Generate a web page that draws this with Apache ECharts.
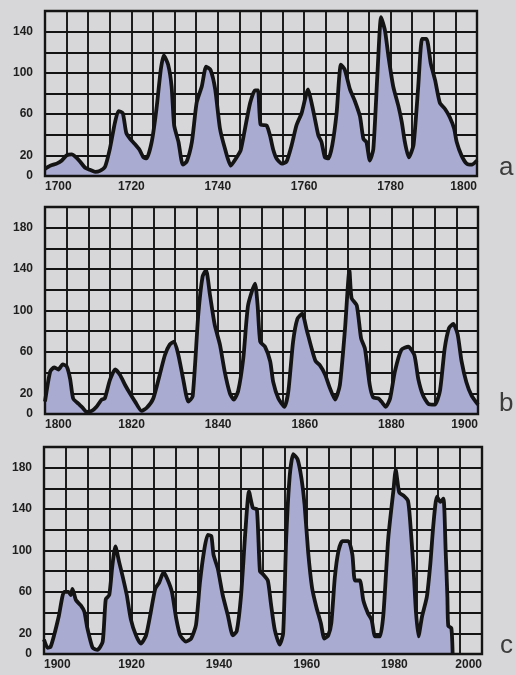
<!DOCTYPE html>
<html>
<head>
<meta charset="utf-8">
<script src="https://cdn.jsdelivr.net/npm/echarts@6/dist/echarts.min.js"></script>
<style>
  html, body { margin: 0; padding: 0; background: #d7d7d9; }
  #chart { width: 516px; height: 675px; }
</style>
</head>
<body>
<div id="chart"></div>
<script>
// ---- Data (year, sunspot number) ----
const yearsA = [1700,1701.2,1702.7,1703.9,1705,1706.2,1707.2,1708.1,1709.3,1710.4,1711.6,1712.7,1713.9,1715,1716.2,1717,1718,1718.8,1719.7,1720.8,1721.8,1722.8,1723.5,1724.7,1725.8,1726.8,1727.5,1728.5,1729.3,1729.9,1730.9,1731.9,1732.8,1734,1735.1,1736.3,1737.3,1738.3,1739.4,1740.5,1741.7,1743,1744.2,1745.3,1746.3,1747.5,1748.6,1749.3,1749.9,1751.3,1752.1,1752.8,1753.6,1754.8,1755.9,1757.1,1758.2,1759.4,1760.9,1761.7,1762.5,1763.3,1764,1764.8,1765.6,1766.5,1767.5,1768.5,1769.4,1770.6,1771.7,1772.9,1773.7,1774.4,1775.2,1776,1777,1777.8,1778.7,1779.5,1780.6,1781.8,1782.6,1783.3,1784.2,1785.3,1786.4,1787.3,1788.3,1789.3,1790.3,1791.4,1792.6,1793.7,1794.7,1795.3,1796.4,1797.6,1798.8,1800];
const sunspotsA = [7,10,12,15,20,21,18,14,8,6,4,5,9,26,52,63,61,42,36,31,26,18,17,33,65,103,117,108,87,49,33,11,14,33,71,87,106,103,84,46,26,10,17,25,46,71,83,83,50,49,39,26,17,12,14,30,49,61,84,71,55,39,33,18,17,30,61,108,103,84,73,58,36,33,15,26,103,154,141,116,87,68,52,33,18,30,87,133,133,109,93,71,65,57,46,33,20,12,11,15];

const yearsB = [1800,1801.2,1802.1,1803.1,1804.1,1805,1805.8,1806.5,1807.7,1808.7,1809.6,1810.8,1811.9,1813.1,1813.8,1815,1816.2,1817.3,1818.5,1819.6,1820.8,1822.3,1823.5,1825,1826.5,1827.7,1828.8,1829.8,1830.8,1831.9,1833.1,1834.1,1835.4,1836.4,1837.2,1838.1,1839.2,1840.4,1841.5,1842.7,1843.6,1844.6,1845.8,1846.9,1848.5,1849.1,1849.7,1850.8,1852,1852.7,1853.9,1855.3,1856.2,1857.3,1858.3,1859.4,1860.4,1861.6,1862.5,1863.5,1864.7,1865.8,1867,1868.1,1869.3,1870.3,1870.8,1872,1873,1873.9,1875,1875.8,1877,1877.7,1878.7,1879.7,1880.8,1882.3,1883.9,1885.3,1886.2,1887.3,1888.5,1890,1891.2,1892.3,1893.3,1894.3,1895.3,1896.2,1897.3,1898.5,1900];
const sunspotsB = [12,41,45,43,48,46,34,15,10,6,2,3,7,14,15,33,43,38,28,20,12,3,6,15,38,57,67,70,57,34,12,17,96,133,139,115,86,67,41,20,14,22,54,105,126,105,70,65,51,31,15,7,22,70,92,97,82,63,51,47,38,25,14,28,83,139,112,105,73,63,28,16,15,12,7,15,41,62,65,57,34,18,10,9,22,63,83,87,77,51,31,18,9];

const yearsC = [1900,1900.8,1901.5,1902.3,1903.4,1904.6,1905.6,1906.1,1906.5,1907.3,1908.4,1909.2,1909.9,1911.1,1912.2,1913.4,1914.1,1914.9,1915.6,1916.3,1917.2,1917.9,1918.9,1919.8,1921,1922.1,1923.3,1924.4,1925.4,1926.3,1927.3,1928.2,1929.2,1930.2,1931.1,1932.4,1933.6,1934.7,1935.6,1936.6,1937.4,1938.2,1938.7,1939.7,1940.8,1942,1943.1,1944,1945,1946,1946.8,1947.7,1948.6,1949.3,1950,1951.1,1951.8,1952.7,1953.8,1954.6,1955.3,1956.1,1956.9,1957.9,1958.8,1959.5,1960.3,1961.2,1962.2,1963.2,1964,1964.9,1965.6,1966.4,1967.2,1968.1,1969.5,1970.4,1971,1972.1,1972.9,1974,1974.8,1975.6,1976.7,1977.5,1978.6,1979.8,1980.3,1981.1,1982.1,1983.1,1983.6,1984.4,1984.9,1985.5,1986.3,1987.4,1988.2,1988.9,1989.7,1990.5,1991.2,1991.7,1992.1,1992.3,1993,1993.3];
const sunspotsC = [14,6,7,18,37,60,60,57,63,52,47,41,25,6,4,12,53,57,85,104,88,76,57,34,18,10,18,41,63,69,79,72,60,34,18,12,15,28,69,101,115,114,96,82,57,37,18,22,57,120,157,141,140,80,77,71,49,23,9,20,112,172,193,188,169,144,99,64,45,30,15,18,30,74,99,109,109,96,71,71,52,39,33,17,17,39,112,159,178,156,153,148,128,80,42,17,36,55,87,125,152,147,150,100,55,27,25,0];

// ---- Axis ranges and tick labels ----
const rangeA = [1700, 1800], rangeB = [1800, 1900], rangeC = [1900, 2000];
const xLabelsA = [1700, 1720, 1740, 1760, 1780, 1800];
const xLabelsB = [1800, 1820, 1840, 1860, 1880, 1900];
const xLabelsC = [1900, 1920, 1940, 1960, 1980, 2000];
const yLabelsShown = [0, 20, 60, 100, 140, 180];
const yMaxA = 160, yMaxB = 200, yMaxC = 200;
const panelLetters = ['a', 'b', 'c'];

const INK = '#141414';
const FILL = '#a9abd1';
const BG = '#d7d7d9';

const grids = [
  { left: 45, top: 11, width: 432, height: 165 },
  { left: 45, top: 207, width: 433, height: 207 },
  { left: 44, top: 447, width: 438, height: 207 }
];

function xAxisFor(i, range, labels) {
  return {
    type: 'value', gridIndex: i, min: range[0], max: range[1], interval: 5,
    axisLine: { show: false }, axisTick: { show: false },
    splitLine: { show: true, lineStyle: { color: INK, width: 1.9 } },
    axisLabel: {
      margin: 5, color: '#1e1e1e', fontSize: 12, fontWeight: 'bold',
      fontFamily: '"Liberation Sans", Arial, sans-serif',
      alignMinLabel: 'left', alignMaxLabel: 'right',
      formatter: v => labels.includes(v) ? String(v) : ''
    }
  };
}
function yAxisFor(i, max) {
  return {
    type: 'value', gridIndex: i, min: 0, max: max, interval: 20,
    axisLine: { show: false }, axisTick: { show: false },
    splitLine: { show: true, lineStyle: { color: INK, width: 1.9 } },
    axisLabel: {
      margin: 12, color: '#1e1e1e', fontSize: 12, fontWeight: 'bold',
      fontFamily: '"Liberation Sans", Arial, sans-serif',
      formatter: v => yLabelsShown.includes(v) ? String(v) : ''
    }
  };
}
function seriesFor(i, years, vals) {
  return {
    type: 'line', xAxisIndex: i, yAxisIndex: i,
    data: years.map((y, k) => [y, vals[k]]),
    symbol: 'none', smooth: 0.2,
    lineStyle: { color: INK, width: 3.8, join: 'round' },
    areaStyle: { color: FILL, opacity: 1 },
    z: 2
  };
}

const chart = echarts.init(document.getElementById('chart'), null, { renderer: 'canvas' });
chart.setOption({
  backgroundColor: BG,
  animation: false,
  grid: grids.map(g => Object.assign({
    show: true, containLabel: false, backgroundColor: 'transparent',
    borderColor: INK, borderWidth: 2.4, z: 10
  }, g)),
  xAxis: [xAxisFor(0, rangeA, xLabelsA), xAxisFor(1, rangeB, xLabelsB), xAxisFor(2, rangeC, xLabelsC)],
  yAxis: [yAxisFor(0, yMaxA), yAxisFor(1, yMaxB), yAxisFor(2, yMaxC)],
  series: [seriesFor(0, yearsA, sunspotsA), seriesFor(1, yearsB, sunspotsB), seriesFor(2, yearsC, sunspotsC)],
  graphic: [
    { type: 'text', left: 499, top: 155, style: { text: panelLetters[0], font: '26px "Liberation Sans", Arial, sans-serif', fill: '#3c3c3c' } },
    { type: 'text', left: 499, top: 391, style: { text: panelLetters[1], font: '26px "Liberation Sans", Arial, sans-serif', fill: '#3c3c3c' } },
    { type: 'text', left: 500, top: 633, style: { text: panelLetters[2], font: '26px "Liberation Sans", Arial, sans-serif', fill: '#3c3c3c' } }
  ]
});
</script>
</body>
</html>
